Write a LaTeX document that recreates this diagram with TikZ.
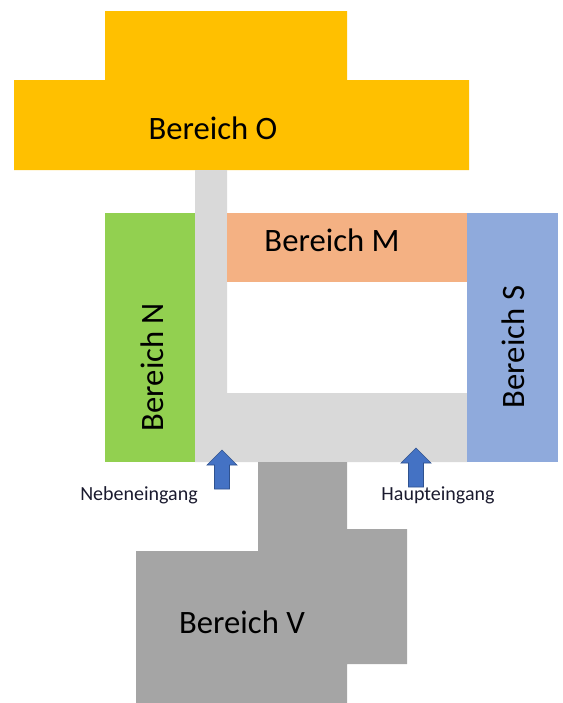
\documentclass[tikz,border=0pt]{standalone}
\usepackage{fontspec}
\setmainfont{Carlito}
\definecolor{cO}{HTML}{FFC000}
\definecolor{cN}{HTML}{92D050}
\definecolor{cM}{HTML}{F4B183}
\definecolor{cS}{HTML}{8FAADC}
\definecolor{cGang}{HTML}{D9D9D9}
\definecolor{cV}{HTML}{A5A5A5}
\definecolor{cArrow}{HTML}{4472C4}
\definecolor{cArrowLine}{HTML}{2F528F}
\definecolor{cLabel}{HTML}{1A1A2E}
\tikzset{
  area/.style={draw=none},
  bigtext/.style={font=\fontsize{24.5}{29}\selectfont, text=black, inner sep=0pt},
  smalltext/.style={font=\fontsize{15}{18}\selectfont, text=cLabel, inner sep=0pt},
  entryarrow/.style={fill=cArrow, draw=cArrowLine, line width=0.5pt, line join=miter},
}
\begin{document}
\begin{tikzpicture}[x=0.75pt,y=-0.75pt]
\useasboundingbox (0,0) rectangle (562,703);
% Bereich O
\fill[area, cO] (105,11) -- (347,11) -- (347,80) -- (469,80) -- (469,170) -- (14,170) -- (14,80) -- (105,80) -- cycle;
% corridor
\fill[area, cGang] (195,170) -- (227,170) -- (227,393) -- (467,393) -- (467,462) -- (195,462) -- cycle;
% Bereich N
\fill[area, cN] (105,213) rectangle (195,462);
% Bereich M
\fill[area, cM] (227,213) rectangle (467,282);
% Bereich S
\fill[area, cS] (467,213) rectangle (558,462);
% Bereich V
\fill[area, cV] (258,462) -- (347,462) -- (347,529) -- (407,529) -- (407,664) -- (347,664) -- (347,703) -- (136,703) -- (136,551) -- (258,551) -- cycle;
% arrows
\draw[entryarrow] (222,450) -- (237,465) -- (229.5,465) -- (229.5,489) -- (214.5,489) -- (214.5,465) -- (207,465) -- cycle;
\draw[entryarrow] (416,448) -- (431,463) -- (423.5,463) -- (423.5,487) -- (408.5,487) -- (408.5,463) -- (401,463) -- cycle;
% texts
\node[bigtext] (tO) at (213,128) {Bereich O};
\node[bigtext] (tM) at (332,240) {Bereich M};
\node[bigtext, rotate=90] (tN) at (152,367) {Bereich N};
\node[bigtext, rotate=90] (tS) at (513,347) {Bereich S};
\node[bigtext] (tV) at (242,622) {Bereich V};
\node[smalltext] (tNeben) at (139,495) {Nebeneingang};
\node[smalltext] (tHaupt) at (438,495) {Haupteingang};
\end{tikzpicture}
\end{document}
